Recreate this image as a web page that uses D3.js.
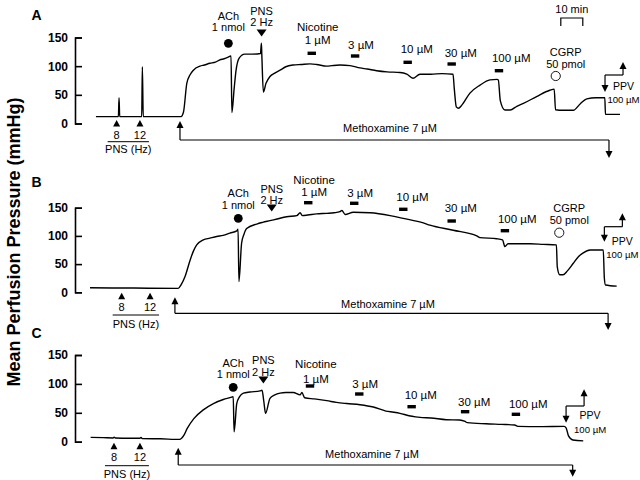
<!DOCTYPE html>
<html><head><meta charset="utf-8">
<script src="https://cdn.jsdelivr.net/npm/d3@7"></script>
<style>
body{margin:0;background:#fff}
svg{display:block}
text{font-family:"Liberation Sans",Arial,Helvetica,sans-serif;fill:#000}
</style>
</head><body>
<svg id="chart" width="640" height="480"></svg>
<script>
// ---------- DATA ----------
const panelNames = ["A", "B", "C"];
const yTickValues = [0, 50, 100, 150];
const yAxisTitle = "Mean Perfusion Pressure (mmHg)";

// Traces: [time (min), mean perfusion pressure (mmHg)]
const traceA = [[2.7,12],[12.9,12],[13.2,45],[13.5,12],[23.5,12],[23.8,99],[24.2,12],[41.4,12],[42.5,20],[44,70],[45.5,85],[47,93],[50,100],[52,102],[54.5,105],[57,107],[59,111],[61,113],[63.5,117],[64.1,118],[64.5,19],[65.5,60],[66.4,93],[67.8,114],[70.3,121],[74,121],[77.5,122],[77.9,140],[78.1,120],[78.8,55],[80,70],[81.8,82],[84,88],[86.4,93],[89,99],[92.3,102],[96,103],[100,104],[103,103],[107.6,100],[110,101],[113.6,102],[118.2,101],[122.7,97],[126,95],[130.3,92],[135,90],[140.9,89],[144,86],[146.8,79],[150,86],[155,86],[160,87],[165,86],[165.6,60],[166.5,29],[167.5,26.5],[169,32],[172.7,53],[177.3,67],[181.8,76],[185,77],[185.6,76],[186.5,40],[188.6,23.5],[191,23.5],[194,30],[197,35],[203,47],[209,58],[211,60],[211.6,24],[215,23],[219.7,23],[223,35],[225.8,43],[230,45],[234,45],[234.3,16],[240.9,16]];
const traceB = [[0,8],[20,7.5],[40.1,7],[41.5,14],[43.2,28],[45.5,57],[47,73],[48.5,84],[51.5,93],[54.5,96],[57.6,99],[60.5,101],[63.6,105],[66.7,109],[67.3,112],[67.7,19],[68.9,87],[70,103],[71.2,113],[75.8,121],[78.5,124],[81.8,127],[85,130],[89.4,134],[94,136],[95.5,141],[96.5,136],[99,137],[103,139],[107.6,140],[111,141],[113.6,143],[114.5,145],[116,138],[119.7,142],[127.3,141],[136.4,136],[142.4,131],[151.5,123],[154.5,119],[165.1,110],[175.8,100],[177.3,97],[184.9,95],[187.5,93],[188.6,81],[190,86],[195.5,86],[200,86],[206,85],[212,84],[212.4,45],[213.5,31],[215,31],[217,38],[219.6,51],[222,63],[224.2,70],[227.3,75],[233.3,75],[233.8,25],[234.3,13],[239.4,11]];
const traceC = [[0.3,7.5],[6,7],[10.5,6.5],[11,8],[11.5,6.5],[18,6],[22.7,6],[23.2,7.5],[23.7,5.5],[32,5],[40.8,4],[42.5,10],[44.2,23],[47.2,40],[51.5,55],[56.1,66],[60.6,73],[64.4,77],[65.1,78],[65.5,17],[66.7,66],[68,78],[69.7,84],[72.7,86],[77.3,88],[78.2,89],[79,70],[79.8,49],[81.8,75],[84,81],[86.4,84],[89,85],[92.4,85],[95.5,81],[96.3,85],[97.6,76],[102,74],[107.6,71],[112,68],[116.7,66],[122.7,64],[128.8,60],[134.5,53],[138,51],[140.9,49],[145,45],[148,43],[150,42],[155,41],[162,38],[168,37.5],[170.5,35],[171.5,33],[180,31],[187,30],[193,29],[194.5,26.5],[205,26],[215.5,26.5],[216.4,24],[217.5,10],[219.5,3],[224.2,1.5]];

// Event times (min)
const pnsHzLabels = ["8", "12"];
const pnsHzTimes = [[12.1, 22.7], [14.4, 27.3], [10.9, 22.7]];
const achTimes = [62.9, 67.4, 65.1];
const pns2HzTimes = [78, 82.6, 78.8];
const nicotineDoses = ["1 µM", "3 µM", "10 µM", "30 µM", "100 µM"];
const nicotineTimes = [[100.8,120.5,144.4,164.4,185.9],[99.2,120.1,142.4,164.4,188.6],[100,122.4,146.2,170.5,193.6]];
const cgrpTimes = [211.7, 213.3, null];
const ppvTimes = [234.1, 233.8, 216.4];
const methoxStart = [40.9, 38.6, 40.1];
const methoxEnd = [235.9, 235.5, 219.4];
const scaleBarMinutes = 10;
const scaleBarStart = 214;

// ---------- LAYOUT (pixels) ----------
const layout = [
  {y0:123.5, y150:37.5, letterY:15, achText:[15.8,27.2], achDot:43.3, pnsText:[10.8,22.2], pnsTri:29.5,
   nicText:26.7, nicLabel:[40,45,49,53.3,58.3], nicBar:[53.3,56,62.3,64,70.7], cgrpText:[52.5,64], cgrpDot:76,
   ppvTop:75, ppvDown:92, ppvUp:62, ppvText:[86,99.5], ppvDx:18.5,
   hzTri:120, hzLabel:135, hzLine:141.7, hzText:149, methApex:121, methLine:140, methEnd:158, methText:128.3, methX:390},
  {y0:292.3, y150:207.7, letterY:181.7, achText:[192.6,204.7], achDot:218.3, pnsText:[189,200.5], pnsTri:204.5,
   nicText:180, nicLabel:[191.7,193.3,197.3,208.3,219.3], nicBar:[202.7,203.3,209.3,221,230.7], cgrpText:[208.5,220], cgrpDot:232.7,
   ppvTop:226.7, ppvDown:241.7, ppvUp:213.3, ppvText:[241,254.5], ppvDx:18,
   hzTri:292.7, hzLabel:306.7, hzLine:315, hzText:324, methApex:297.3, methLine:313.3, methEnd:330, methText:304, methX:388},
  {y0:441.7, y150:355, letterY:333.3, achText:[362.6,374.2], achDot:387.3, pnsText:[360,371.7], pnsTri:376.5,
   nicText:364, nicLabel:[379.3,384.3,395,401.7,404], nicBar:[386,394,406.7,411.7,414.3], cgrpText:null, cgrpDot:null,
   ppvTop:406, ppvDown:422.7, ppvUp:389.3, ppvText:[415,430], ppvDx:24,
   hzTri:442.7, hzLabel:457.3, hzLine:465.7, hzText:474, methApex:447.7, methLine:465, methEnd:476.7, methText:454, methX:372}
];
const traces = [traceA, traceB, traceC];

// ---------- DRAW ----------
const svg = d3.select("#chart");
const x = d3.scaleLinear().domain([0, 240]).range([90, 618]);
const axisX = 75;

function tri(g, cx, apexY, dir, w, h) { // dir -1: points up, +1: points down
  const by = apexY - dir * h;
  g.append("path").attr("d", `M${cx},${apexY}L${cx - w/2},${by}L${cx + w/2},${by}Z`).attr("fill", "#000");
}
function vline(g, xx, y1, y2, sw) {
  g.append("line").attr("x1", xx).attr("x2", xx).attr("y1", y1).attr("y2", y2).attr("stroke", "#000").attr("stroke-width", sw || 1);
}
function hline(g, x1, x2, yy, sw) {
  g.append("line").attr("x1", x1).attr("x2", x2).attr("y1", yy).attr("y2", yy).attr("stroke", "#000").attr("stroke-width", sw || 1);
}
function txt(g, s, xx, yc, anchor, size, weight) {
  return g.append("text").attr("x", xx).attr("y", yc).attr("dy", "0.36em")
    .attr("text-anchor", anchor || "middle").attr("font-size", size || 11)
    .attr("font-weight", weight || "normal").text(s);
}

// Y axis title
svg.append("text").attr("transform", "translate(14,242) rotate(-90)")
  .attr("text-anchor", "middle").attr("dy", "0.36em")
  .attr("font-size", 18).attr("font-weight", "bold").text(yAxisTitle);

panelNames.forEach((name, i) => {
  const L = layout[i];
  const g = svg.append("g");
  const y = d3.scaleLinear().domain([0, 150]).range([L.y0, L.y150]);

  // panel letter
  txt(g, name, 36.5, L.letterY, "middle", 14, "bold");

  // axis
  const ax = g.append("g").attr("transform", `translate(${axisX},0)`)
    .call(d3.axisLeft(y).tickValues(yTickValues).tickSizeInner(-7).tickSizeOuter(-7).tickPadding(7));
  ax.selectAll("path,line").attr("stroke", "#000").attr("stroke-width", 1.6);
  ax.selectAll("text").attr("font-size", 12).attr("font-weight", "bold")
    .attr("font-family", "'Liberation Sans',Arial,sans-serif").attr("fill", "#000");

  // trace
  const line = d3.line().x(d => x(d[0])).y(d => y(d[1])).curve(d3.curveMonotoneX);
  g.append("path").datum(traces[i]).attr("d", line)
    .attr("fill", "none").attr("stroke", "#000").attr("stroke-width", 1.4).attr("stroke-linejoin", "round");

  // PNS (Hz) markers
  const hz = pnsHzTimes[i].map(t => x(t));
  hz.forEach((hx, k) => {
    tri(g, hx, L.hzTri, -1, 7, 6.5);
    txt(g, pnsHzLabels[k], hx, L.hzLabel, "middle", 11);
  });
  hline(g, hz[0] - 9, hz[hz.length - 1] + 9, L.hzLine, 1);
  txt(g, "PNS (Hz)", (hz[0] + hz[hz.length - 1]) / 2, L.hzText, "middle", 11);

  // Methoxamine bracket arrow
  const ms = x(methoxStart[i]), me = x(methoxEnd[i]);
  tri(g, ms, L.methApex, -1, 7, 7);
  vline(g, ms, L.methApex + 6, L.methLine, 1.2);
  hline(g, ms, me, L.methLine, 1.2);
  vline(g, me, L.methLine, L.methEnd - 6, 1.2);
  tri(g, me, L.methEnd, 1, 7, 7);
  txt(g, "Methoxamine 7 µM", L.methX, L.methText, "middle", 11);

  // ACh
  const ax0 = x(achTimes[i]);
  txt(g, "ACh", ax0, L.achText[0], "middle", 11);
  txt(g, "1 nmol", ax0, L.achText[1], "middle", 11);
  g.append("circle").attr("cx", ax0).attr("cy", L.achDot).attr("r", 4.4).attr("fill", "#000");

  // PNS 2 Hz
  const px0 = x(pns2HzTimes[i]);
  txt(g, "PNS", px0, L.pnsText[0], "middle", 11);
  txt(g, "2 Hz", px0, L.pnsText[1], "middle", 11);
  tri(g, px0, L.pnsTri + 7, 1, 10, 7);

  // Nicotine doses
  nicotineTimes[i].forEach((t, k) => {
    const bx = x(t);
    g.append("rect").attr("x", bx - 4.2).attr("y", L.nicBar[k] - 1.7).attr("width", 8.4).attr("height", 3.4).attr("fill", "#000");
    const lab = txt(g, nicotineDoses[k], bx - 7, L.nicLabel[k], "start", 11.5);
    if (k === 0) {
      const w = lab.node().getComputedTextLength();
      txt(g, "Nicotine", bx - 7 + w / 2, L.nicText, "middle", 11.5);
    }
  });

  // CGRP
  if (cgrpTimes[i] !== null) {
    const cx = x(cgrpTimes[i]);
    txt(g, "CGRP", cx + 10, L.cgrpText[0], "middle", 11);
    txt(g, "50 pmol", cx + 10, L.cgrpText[1], "middle", 11);
    g.append("circle").attr("cx", cx).attr("cy", L.cgrpDot).attr("r", 4.6)
      .attr("fill", "none").attr("stroke", "#000").attr("stroke-width", 0.9);
  }

  // PPV arrows
  const vx = x(ppvTimes[i]);
  vline(g, vx, L.ppvTop, L.ppvDown - 6, 1.2);
  tri(g, vx, L.ppvDown, 1, 7, 7);
  hline(g, vx, vx + 18, L.ppvTop, 1.2);
  vline(g, vx + 18, L.ppvTop, L.ppvUp + 6, 1.2);
  tri(g, vx + 18, L.ppvUp, -1, 7, 7);
  txt(g, "PPV", vx + L.ppvDx, L.ppvText[0], "middle", 10.5);
  txt(g, "100 µM", vx + L.ppvDx, L.ppvText[1], "middle", 9.6);
});

// 10 min scale bar
const sb = svg.append("g");
const s0 = x(scaleBarStart), s1 = x(scaleBarStart + scaleBarMinutes);
sb.append("path").attr("d", `M${s0},26V18H${s1}V26`).attr("fill", "none").attr("stroke", "#000").attr("stroke-width", 1.2);
txt(sb, scaleBarMinutes + " min", (s0 + s1) / 2, 9, "middle", 11);
</script>
</body></html>
